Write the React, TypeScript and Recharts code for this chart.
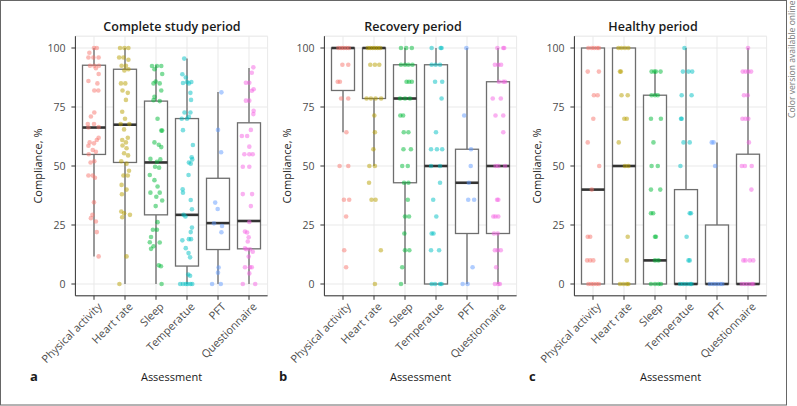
import React from 'react'
import { ComposedChart, Bar, Scatter, XAxis, YAxis, CartesianGrid } from 'recharts'

const assessments = ['Physical activity', 'Heart rate', 'Sleep', 'Temperatue', 'PFT', 'Questionnaire']
const colors = ['#F8766D', '#B79F00', '#00BA38', '#00BFC4', '#619CFF', '#F564E3']
const yTicks = [0, 25, 50, 75, 100]
const minorTicks = [12.5, 37.5, 62.5, 87.5]
const xTicks = [1, 2, 3, 4, 5, 6]

type Pt = [number, number]
type Box = [number, number, number, number, number]

// box stats: [lower whisker, q1, median, q3, upper whisker]
const completeBoxes: Box[] = [
  [11.7, 54.9, 66.3, 92.7, 100],
  [0, 51.5, 67.5, 91, 100],
  [0, 29.3, 51.5, 77.5, 92.7],
  [0, 7.6, 29.3, 70.1, 95.5],
  [0, 14.6, 25.8, 44.8, 81.4],
  [0, 14.9, 26.7, 68.3, 91.5],
]
const recoveryBoxes: Box[] = [
  [64.3, 82, 100, 100, 100],
  [50, 78.6, 100, 100, 100],
  [0, 42.9, 78.6, 92.9, 100],
  [0, 0, 50, 92.9, 100],
  [0, 21.4, 42.9, 57.1, 100],
  [0, 21.4, 50, 85.7, 100],
]
const healthyBoxes: Box[] = [
  [0, 0, 40, 100, 100],
  [0, 0, 50, 100, 100],
  [0, 0, 10, 80, 90],
  [0, 0, 0, 40, 100],
  [0, 0, 0, 25, 60],
  [0, 0, 0, 55, 100],
]

// jittered points: [offset from category, compliance %]
const completeActivity: Pt[] = [[0,100],[0.09,100],[-0.15,98],[-0.18,96],[-0.02,96],[0.15,96],[-0.13,92.5],[0.01,92.5],[0.16,92.5],[0.06,91.4],[0.15,89],[-0.18,86],[0.11,85],[0.01,82],[0.14,82],[0.01,72.7],[-0.1,71],[-0.2,67.8],[0,67.8],[0.15,66.5],[-0.18,66.3],[0.15,62],[0.09,61],[-0.14,60],[0,59.6],[-0.18,58.6],[-0.04,56.8],[0.06,56],[-0.17,55],[0.01,52],[-0.11,51.5],[-0.18,46],[-0.04,46],[0.03,45],[0,34.6],[-0.05,29.3],[-0.1,27.9],[0.06,26.5],[0.09,22],[0.15,11.7]]
const completeHeart: Pt[] = [[-0.16,100],[-0.02,100],[0.11,100],[-0.19,96],[-0.05,96],[0.11,95],[0.03,92.5],[-0.11,92.5],[-0.02,90.5],[0.11,91],[-0.13,85],[0.01,85],[-0.08,82],[0.09,81],[0.03,78],[-0.09,73],[0,70],[0.14,67.8],[-0.14,67.8],[-0.03,65.5],[0.09,62],[-0.09,61],[0.03,60],[-0.08,58.7],[0.05,57.5],[-0.03,55.4],[0.1,54.5],[-0.12,52],[0.05,51],[0.13,48],[-0.05,46],[0.09,46],[-0.11,42],[0.05,40],[-0.1,38],[-0.12,30.7],[-0.03,30],[0.16,29.3],[-0.09,28.3],[0.05,11.7],[-0.18,0]]
const completeSleep: Pt[] = [[-0.13,92.4],[0.03,92.4],[0.17,92.4],[-0.05,91],[0.2,89],[-0.01,85.8],[-0.08,85],[0.12,85],[0.17,82],[-0.05,79.3],[-0.08,77.9],[0.12,77.5],[0.05,70],[0.17,65],[0.2,65],[-0.05,60],[0.09,59],[0.17,58],[-0.18,53],[0.14,52.8],[0.03,51.8],[-0.03,49.7],[0.1,49.3],[-0.2,46.2],[-0.05,44],[0.05,41.3],[-0.18,38.7],[0.12,38.7],[0.01,37],[0.2,35.4],[-0.01,33],[0.05,26.2],[0.03,23],[-0.1,23],[-0.16,19.9],[0.12,17.6],[-0.2,17.7],[-0.08,16],[-0.16,14.9],[0.09,7.9],[0.16,7.5],[0.18,0]]
const completeTemp: Pt[] = [[-0.09,95.5],[-0.15,88.9],[-0.04,87.5],[0,85.6],[-0.13,85.2],[0.14,85.6],[0.06,85],[0.11,81],[0.13,78],[-0.08,72.7],[0.11,72.7],[0.06,70.8],[-0.17,70],[0,70],[-0.13,65.2],[0.19,58.9],[0.15,53.7],[0.17,52.8],[0.06,51.5],[0.12,51],[0.05,46.2],[-0.14,40.1],[-0.13,38.7],[0.12,35.6],[0.16,31.7],[-0.11,29.3],[-0.05,28.6],[0.16,23.9],[0.12,22],[0.06,19],[0.13,19],[-0.15,18.5],[-0.04,15.2],[0.05,13.1],[0.1,11.3],[0.04,4],[0.1,3.5],[-0.22,0],[-0.13,0],[-0.04,0],[0.02,0],[0.11,0],[0.17,0]]
const completePft: Pt[] = [[0.11,81.2],[0,65.3],[0.1,55.8],[-0.09,34.5],[-0.01,31.8],[-0.13,25.7],[0.13,24.6],[0.11,21.9],[0.02,7],[0,4.8],[-0.19,0],[0.09,0]]
const completeQuest: Pt[] = [[0.14,91.8],[0.09,89.5],[0.01,85.3],[-0.1,85.3],[0.15,82.5],[0.09,81.9],[0.01,77.7],[-0.1,77.7],[0.15,73.4],[0.14,72],[-0.06,62.7],[-0.23,62.7],[0.06,65.3],[0.01,58.2],[-0.15,55],[0.01,55],[0.12,55],[-0.2,49.7],[0.01,49.7],[-0.2,38.1],[0.1,38.1],[0.06,33],[0.01,26.3],[-0.13,22.2],[-0.06,21.8],[-0.01,19.8],[-0.04,18],[0.03,14.7],[-0.13,15.1],[-0.08,14.7],[0.12,13.7],[-0.01,11.6],[-0.13,7.1],[0.03,7.1],[0.09,7.1],[0.01,4.5],[-0.2,0],[0.2,0]]

const recoveryActivity: Pt[] = [[-0.15,100],[-0.06,100],[0.02,100],[0.11,100],[0.19,100],[-0.02,92.9],[0.17,92.9],[-0.17,85.7],[-0.1,85.7],[-0.06,78.6],[0.17,78.6],[0.11,64.3],[-0.11,50],[0.17,50],[0.03,35.7],[0.2,35.7],[0.1,28.6],[0.04,14.3],[0.1,7.1]]
const recoveryHeart: Pt[] = [[-0.2,100],[-0.12,100],[-0.04,100],[0.04,100],[0.12,100],[0.2,100],[-0.12,92.9],[0.03,92.9],[0.17,92.9],[-0.24,78.6],[-0.1,78.6],[0.05,78.6],[0.23,78.6],[0.01,71.4],[0.03,64.3],[-0.02,57.1],[-0.15,50],[0.03,50],[-0.16,42.9],[-0.08,35.7],[0.05,35.7],[0.22,14.3],[0.03,0]]
const recoverySleep: Pt[] = [[-0.13,100],[0.04,100],[0.22,100],[-0.13,92.9],[0,92.9],[0.11,92.9],[0.24,92.9],[0.05,85.7],[0.13,85.7],[0.22,85.7],[-0.16,78.6],[0,78.6],[0.16,78.6],[-0.15,71.4],[-0.06,71.4],[-0.04,64.3],[0.11,64.3],[-0.05,57.1],[0.19,57.1],[-0.09,50],[0.09,50],[-0.03,42.9],[0.11,42.9],[0.09,35.7],[0,28.6],[0.13,28.6],[-0.02,21.4],[0,14.3],[0.14,14.3],[-0.09,7.1],[-0.13,0]]
const recoveryTemp: Pt[] = [[-0.14,100],[0.15,100],[0.18,100],[-0.14,92.9],[-0.01,92.9],[0.13,92.9],[-0.03,85.7],[0.2,85.7],[0.18,78.6],[0,64.3],[-0.16,57.1],[0.03,57.1],[0.2,57.1],[-0.16,50],[0.13,50],[0.13,42.9],[-0.09,35.7],[0.01,28.6],[-0.14,21.4],[-0.08,21.4],[-0.16,14.3],[0.1,14.3],[-0.14,0],[-0.03,0],[0.13,0],[0.18,0]]
const recoveryPft: Pt[] = [[-0.02,100],[-0.09,71.4],[0.13,57.1],[0.12,50],[0.06,42.9],[0.04,35.7],[0.23,35.7],[0.18,7.1],[-0.14,0],[0.02,0]]
const recoveryQuest: Pt[] = [[-0.02,100],[0.17,100],[0.2,100],[-0.1,92.9],[0.01,92.9],[0.1,92.9],[0.03,85.7],[0.17,85.7],[0.23,85.7],[-0.17,78.6],[0.09,78.6],[-0.08,71.4],[0.17,71.4],[0.17,64.3],[-0.08,50],[0.01,50],[0.23,50],[-0.03,35.7],[0.01,35.7],[-0.15,28.6],[-0.08,28.6],[0.01,28.6],[-0.13,21.4],[-0.01,21.4],[-0.1,14.3],[-0.01,14.3],[0.09,14.3],[-0.06,7.1],[-0.1,0],[0.01,0],[0.06,0]]

const healthyActivity: Pt[] = [[-0.15,100],[-0.04,100],[0.04,100],[0.13,100],[0.19,100],[-0.17,90],[0.19,90],[0.03,80],[0.15,80],[0.01,70],[-0.17,60],[0.2,50],[-0.04,40],[-0.17,20],[-0.09,20],[-0.19,10],[-0.09,10],[0.01,10],[-0.15,0],[-0.06,0],[0.02,0],[0.11,0],[0.19,0]]
const healthyHeart: Pt[] = [[-0.18,100],[-0.08,100],[0.03,100],[0.14,100],[-0.13,90],[-0.1,90],[-0.08,80],[0.12,80],[0.01,70],[0.09,70],[-0.17,60],[0.03,50],[0.14,50],[0.12,20],[0.09,10],[-0.13,0],[-0.02,0],[0.09,0],[0.14,0]]
const healthySleep: Pt[] = [[-0.11,90],[-0.02,90],[0.03,90],[0.18,90],[-0.11,80],[0,80],[0.09,80],[-0.13,70],[0.19,70],[-0.05,60],[-0.11,50],[0.09,50],[-0.13,40],[0.17,40],[-0.13,30],[-0.06,30],[0,20],[0.03,20],[0,10],[0.11,10],[-0.13,0],[0,0],[0.11,0],[0.19,0]]
const healthyTemp: Pt[] = [[-0.05,100],[-0.1,90],[0.08,90],[0.2,90],[-0.14,80],[0.18,80],[-0.16,70],[-0.14,70],[-0.08,60],[0.12,60],[-0.18,50],[0.12,30],[0.16,30],[0.02,20],[0.08,10],[0.12,10],[-0.19,0],[-0.09,0],[0.02,0],[0.13,0],[0.18,0]]
const healthyPft: Pt[] = [[-0.17,60],[-0.11,60],[-0.06,50],[-0.23,0],[-0.12,0],[-0.01,0],[0.1,0],[0.17,0]]
const healthyQuest: Pt[] = [[0,100],[-0.17,90],[-0.08,90],[0.01,90],[0.1,90],[-0.13,80],[-0.01,80],[-0.18,70],[-0.08,70],[0.01,70],[0.03,60],[-0.2,50],[-0.1,50],[0.12,50],[0.11,40],[-0.15,10],[-0.08,10],[0.06,10],[0.17,10],[-0.2,0],[-0.1,0],[0.01,0],[0.12,0],[0.17,0]]

const panels = [
  { title: 'Complete study period', letter: 'a', left: 0, titleX: 172, boxes: completeBoxes,
    points: [completeActivity, completeHeart, completeSleep, completeTemp, completePft, completeQuest] },
  { title: 'Recovery period', letter: 'b', left: 249, titleX: 413, boxes: recoveryBoxes,
    points: [recoveryActivity, recoveryHeart, recoverySleep, recoveryTemp, recoveryPft, recoveryQuest] },
  { title: 'Healthy period', letter: 'c', left: 499, titleX: 653, boxes: healthyBoxes,
    points: [healthyActivity, healthyHeart, healthySleep, healthyTemp, healthyPft, healthyQuest] },
]

const FONT = '"Open Sans", sans-serif'
const CHART_W = 270
const CHART_H = 406
const Y_AXIS_W = 75.4
const MARGIN = { top: 36.2, right: 2.4, bottom: 30.2, left: 0 }

const BoxShape = (props: any) => {
  const { x, y, width, height, payload } = props
  const [lo, q1, med, q3, hi] = payload.stats as Box
  const top = Math.min(y, y + height)
  const bottom = Math.max(y, y + height)
  const px = (v: number) => (hi === lo ? top : bottom - ((v - lo) / (hi - lo)) * (bottom - top))
  const cx = x + width / 2
  return (
    <g>
      <line x1={cx} x2={cx} y1={px(q3)} y2={px(hi)} stroke="#9a9a9a" strokeWidth={2} />
      <line x1={cx} x2={cx} y1={px(lo)} y2={px(q1)} stroke="#9a9a9a" strokeWidth={2} />
      <rect x={x} y={px(q3)} width={width} height={Math.max(px(q1) - px(q3), 0.5)} fill="#fff" stroke="#6e6e6e" strokeWidth={1.3} />
      <line x1={x} x2={x + width} y1={px(med)} y2={px(med)} stroke="#333" strokeWidth={2.6} />
    </g>
  )
}

const Dot = (props: any) => <circle cx={props.cx} cy={props.cy} r={2.3} fill={props.fill} fillOpacity={0.5} />

const XTick = ({ x, y, payload }: any) => (
  <text
    x={x + 3}
    y={y}
    dy="0.72em"
    transform={`rotate(-45 ${x + 3} ${y})`}
    textAnchor="end"
    fontSize={11}
    fontFamily={FONT}
    fill="#4d4d4d"
  >
    {assessments[payload.value - 1]}
  </text>
)

const Panel = ({ panel }: { panel: (typeof panels)[number] }) => {
  const data = assessments.map((name, i) => ({
    name,
    range: [panel.boxes[i][0], panel.boxes[i][4]],
    stats: panel.boxes[i],
  }))
  return (
    <div style={{ position: 'absolute', left: panel.left, top: 0 }}>
      <ComposedChart width={CHART_W} height={CHART_H} data={data} margin={MARGIN}>
        <CartesianGrid xAxisId="num" yAxisId="minor" vertical={false} stroke="#f4f4f4" />
        <CartesianGrid xAxisId="num" stroke="#e9e9e9" />
        <XAxis
          xAxisId="num"
          dataKey="x"
          type="number"
          domain={[0.4, 6.6]}
          ticks={xTicks}
          allowDataOverflow
          height={80}
          tickSize={4}
          tickMargin={2}
          stroke="#333"
          tick={<XTick />}
        />
        <XAxis xAxisId="cat" dataKey="name" type="category" hide height={0} padding={{ left: 3.1, right: 3.1 }} />
        <YAxis yAxisId="minor" type="number" domain={[-5, 105]} ticks={minorTicks} hide width={0} />
        <YAxis
          type="number"
          domain={[-5, 105]}
          ticks={yTicks}
          width={Y_AXIS_W}
          tickSize={4}
          tickMargin={6}
          stroke="#333"
          tick={{ fill: '#4d4d4d', fontSize: 10.5, fontFamily: FONT }}
        />
        <Bar xAxisId="cat" dataKey="range" barSize={23} shape={<BoxShape />} isAnimationActive={false} />
        {panel.points.map((pts, i) => (
          <Scatter
            key={assessments[i]}
            xAxisId="num"
            data={pts.map(([dx, v]) => ({ x: i + 1 + dx, y: v }))}
            dataKey="y"
            fill={colors[i]}
            shape={<Dot />}
            isAnimationActive={false}
          />
        ))}
      </ComposedChart>
    </div>
  )
}

const App = () => {
  return (
    <div style={{ position: 'absolute', left: 0, top: 0, width: 797, height: 406, background: '#fff', fontFamily: FONT }}>
      {panels.map((p) => (
        <Panel key={p.letter} panel={p} />
      ))}
      <svg width={797} height={406} style={{ position: 'absolute', left: 0, top: 0, pointerEvents: 'none' }}>
        <rect x={0.5} y={0.5} width={786} height={404.5} fill="none" stroke="#666" strokeWidth={1} />
        <text
          x={792}
          y={118}
          transform="rotate(-90 792 118)"
          fontSize={8.6}
          fontFamily={FONT}
          fill="#777"
          dominantBaseline="central"
        >
          Color version available online
        </text>
        {panels.map((p) => {
          const plotLeft = p.left + Y_AXIS_W
          const plotCenter = plotLeft + (CHART_W - Y_AXIS_W - MARGIN.right) / 2
          return (
            <g key={p.letter} fontFamily={FONT}>
              <text x={p.titleX} y={31} textAnchor="middle" fontSize={12.5} fontWeight={600} fill="#1a1a1a">
                {p.title}
              </text>
              <text x={plotCenter} y={381} textAnchor="middle" fontSize={11} fill="#1a1a1a">
                Assessment
              </text>
              <text x={p.left + 30} y={381} fontSize={13} fontWeight={700} fill="#1a1a1a">
                {p.letter}
              </text>
              <text
                x={p.left + 37}
                y={166}
                transform={`rotate(-90 ${p.left + 37} 166)`}
                textAnchor="middle"
                dominantBaseline="central"
                fontSize={11}
                fill="#1a1a1a"
              >
                Compliance, %
              </text>
            </g>
          )
        })}
      </svg>
    </div>
  )
}

export default App
